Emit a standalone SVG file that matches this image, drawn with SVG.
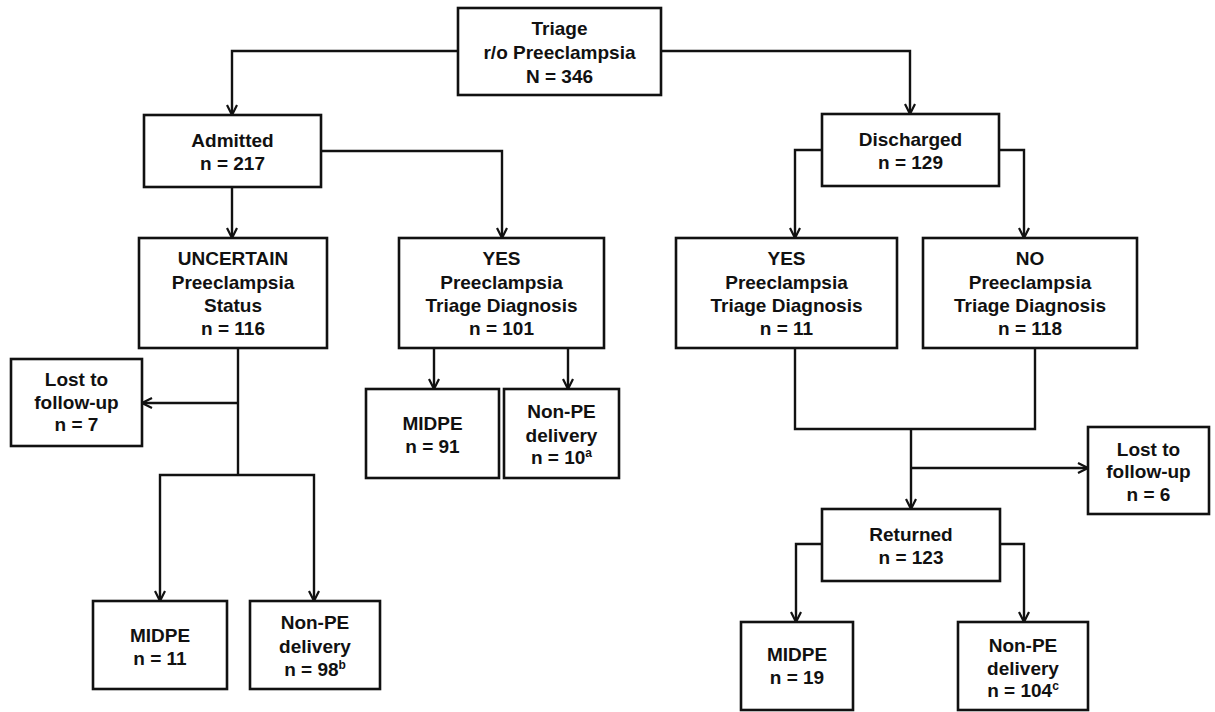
<svg xmlns="http://www.w3.org/2000/svg" width="1215" height="712" viewBox="0 0 1215 712">
<defs>
<style>
.box{fill:#fff;stroke:#111;stroke-width:2.6}
.t{font-family:"Liberation Sans",Arial,sans-serif;font-weight:bold;font-size:19px;fill:#111;text-anchor:middle}
.sup{font-size:12px}
.c{fill:none;stroke:#111;stroke-width:2.4}
.a{marker-end:url(#arr)}
</style>
<marker id="arr" viewBox="0 0 12 12" refX="11" refY="6" markerWidth="12" markerHeight="12" markerUnits="userSpaceOnUse" orient="auto">
<path d="M1,1 L11,6 L1,11" fill="none" stroke="#111" stroke-width="2.2"/>
</marker>
</defs>
<rect width="1215" height="712" fill="#fff"/>
<g id="connectors">
<path class="c a" d="M458,51 H232 V115"/>
<path class="c a" d="M661,51 H910 V114"/>
<path class="c a" d="M232,187 V238"/>
<path class="c a" d="M321,151 H502 V238"/>
<path class="c a" d="M822,150 H795 V238"/>
<path class="c a" d="M999,150 H1024 V238"/>
<path class="c" d="M238,348 V475"/>
<path class="c a" d="M238,403 H142"/>
<path class="c a" d="M238,475 H160 V601"/>
<path class="c a" d="M238,475 H314 V601"/>
<path class="c a" d="M434,348 V389"/>
<path class="c a" d="M568,348 V389"/>
<path class="c" d="M795,348 V429 H1035 V348"/>
<path class="c a" d="M911,429 V509"/>
<path class="c a" d="M911,468 H1088"/>
<path class="c a" d="M822,544 H796 V622"/>
<path class="c a" d="M1000,544 H1024 V622"/>
</g>
<g id="triage"><rect class="box" x="458" y="8" width="203" height="87"/>
<text class="t" x="559.5" y="35">Triage</text><text class="t" x="559.5" y="59">r/o Preeclampsia</text><text class="t" x="559.5" y="83">N = 346</text></g>
<g id="admitted"><rect class="box" x="144" y="115" width="177" height="72"/>
<text class="t" x="232.5" y="147">Admitted</text><text class="t" x="232.5" y="170">n = 217</text></g>
<g id="discharged"><rect class="box" x="822" y="114" width="177" height="72"/>
<text class="t" x="910.5" y="146">Discharged</text><text class="t" x="910.5" y="169">n = 129</text></g>
<g id="uncertain"><rect class="box" x="139" y="238" width="188" height="110"/>
<text class="t" x="233" y="265">UNCERTAIN</text><text class="t" x="233" y="289">Preeclampsia</text><text class="t" x="233" y="312">Status</text><text class="t" x="233" y="335">n = 116</text></g>
<g id="yes-admitted"><rect class="box" x="399" y="238" width="205" height="110"/>
<text class="t" x="501.5" y="265">YES</text><text class="t" x="501.5" y="289">Preeclampsia</text><text class="t" x="501.5" y="312">Triage Diagnosis</text><text class="t" x="501.5" y="335">n = 101</text></g>
<g id="yes-discharged"><rect class="box" x="676" y="238" width="221" height="110"/>
<text class="t" x="786.5" y="265">YES</text><text class="t" x="786.5" y="289">Preeclampsia</text><text class="t" x="786.5" y="312">Triage Diagnosis</text><text class="t" x="786.5" y="335">n = 11</text></g>
<g id="no-discharged"><rect class="box" x="923" y="238" width="214" height="110"/>
<text class="t" x="1030" y="265">NO</text><text class="t" x="1030" y="289">Preeclampsia</text><text class="t" x="1030" y="312">Triage Diagnosis</text><text class="t" x="1030" y="335">n = 118</text></g>
<g id="lost7"><rect class="box" x="11" y="359" width="131" height="87"/>
<text class="t" x="76.5" y="386">Lost to</text><text class="t" x="76.5" y="409">follow-up</text><text class="t" x="76.5" y="431">n = 7</text></g>
<g id="midpe91"><rect class="box" x="366" y="389" width="133" height="89"/>
<text class="t" x="432.5" y="430">MIDPE</text><text class="t" x="432.5" y="453">n = 91</text></g>
<g id="nonpe10"><rect class="box" x="504" y="389" width="115" height="89"/>
<text class="t" x="561.5" y="418">Non-PE</text><text class="t" x="561.5" y="442">delivery</text><text class="t" x="561.5" y="464">n = 10<tspan class="sup" dy="-7">a</tspan></text></g>
<g id="midpe11"><rect class="box" x="93" y="601" width="134" height="88"/>
<text class="t" x="160" y="642">MIDPE</text><text class="t" x="160" y="665">n = 11</text></g>
<g id="nonpe98"><rect class="box" x="250" y="601" width="130" height="88"/>
<text class="t" x="315" y="629">Non-PE</text><text class="t" x="315" y="653">delivery</text><text class="t" x="315" y="676">n = 98<tspan class="sup" dy="-7">b</tspan></text></g>
<g id="lost6"><rect class="box" x="1088" y="427" width="121" height="87"/>
<text class="t" x="1148.5" y="456">Lost to</text><text class="t" x="1148.5" y="478">follow-up</text><text class="t" x="1148.5" y="501">n = 6</text></g>
<g id="returned"><rect class="box" x="822" y="509" width="178" height="72"/>
<text class="t" x="911" y="541">Returned</text><text class="t" x="911" y="564">n = 123</text></g>
<g id="midpe19"><rect class="box" x="741" y="622" width="112" height="88"/>
<text class="t" x="797" y="661">MIDPE</text><text class="t" x="797" y="684">n = 19</text></g>
<g id="nonpe104"><rect class="box" x="958" y="622" width="130" height="88"/>
<text class="t" x="1023" y="652">Non-PE</text><text class="t" x="1023" y="675">delivery</text><text class="t" x="1023" y="697">n = 104<tspan class="sup" dy="-7">c</tspan></text></g>
</svg>
